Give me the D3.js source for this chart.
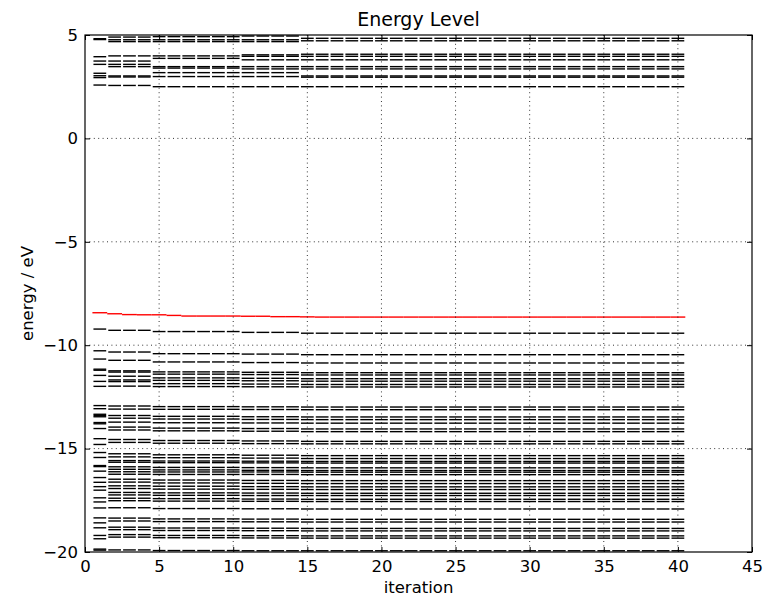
<!DOCTYPE html>
<html>
<head>
<meta charset="utf-8">
<script src="https://cdn.jsdelivr.net/npm/d3@7"></script>
<style>
  body { margin: 0; background: #fff; }
  svg { display: block; }
  text { font-family: "DejaVu Sans", sans-serif; fill: #000; }
</style>
</head>
<body>
<svg id="chart" width="780" height="598"></svg>
<script>
// SCF iterations
const iterations = [1, 2, 3, 4, 5, 6, 7, 8, 9, 10, 11, 12, 13, 14, 15, 16, 17, 18, 19, 20,
                    21, 22, 23, 24, 25, 26, 27, 28, 29, 30, 31, 32, 33, 34, 35, 36, 37, 38, 39, 40];

// HOMO energy (eV) at each iteration, drawn in red
const homoLevel = [-8.43, -8.48, -8.52, -8.53, -8.53, -8.56, -8.59, -8.59, -8.59, -8.59,
                   -8.60, -8.60, -8.62, -8.62, -8.63, -8.64, -8.64, -8.64, -8.64, -8.64,
                   -8.64, -8.64, -8.64, -8.64, -8.64, -8.64, -8.64, -8.64, -8.64, -8.64,
                   -8.64, -8.64, -8.64, -8.64, -8.64, -8.64, -8.64, -8.64, -8.64, -8.64];

// Orbital energies (eV), by stage of the SCF cycle
const levelsIter1 = [4.82, 4.78, 3.95, 3.74, 3.58, 3.15, 3.03, 2.94, 2.58,
  -9.22, -10.27, -10.67, -11.16, -11.21, -11.46, -11.75, -11.99,
  -12.92, -13.07, -13.34, -13.40, -13.46, -13.74, -13.80, -14.03, -14.52, -14.80,
  -15.19, -15.43, -15.82, -15.87, -16.09, -16.40, -16.63, -16.84, -17.01, -17.38, -17.58, -17.87,
  -18.35, -18.59, -18.83, -19.20, -19.36, -19.86, -19.91];

const levelsIter2to4 = [4.90, 4.77, 4.68, 3.99, 3.74, 3.58, 3.47, 3.02, 2.97, 2.56,
  -9.28, -10.33, -10.73, -11.24, -11.30, -11.50, -11.68, -11.76, -11.98,
  -12.94, -13.09, -13.40, -13.53, -13.72, -13.96, -14.10, -14.56, -14.70,
  -15.25, -15.40, -15.58, -15.66, -15.88, -16.00, -16.12, -16.24, -16.48, -16.62, -16.80, -16.93,
  -17.12, -17.24, -17.40, -17.52, -17.86,
  -18.36, -18.50, -18.80, -18.92, -19.16, -19.28, -19.90];

const levelsIter5to10 = [4.92, 4.77, 4.68, 3.99, 3.87, 3.47, 3.40, 3.18, 2.99, 2.50,
  -9.34, -10.41, -10.81, -11.29, -11.40, -11.58, -11.70, -11.86, -12.00,
  -12.97, -13.10, -13.44, -13.57, -13.75, -14.01, -14.14, -14.61, -14.74,
  -15.30, -15.44, -15.60, -15.68, -15.91, -16.03, -16.13, -16.25, -16.52, -16.66, -16.82, -16.96,
  -17.14, -17.26, -17.42, -17.54, -17.90,
  -18.40, -18.53, -18.84, -18.96, -19.20, -19.31, -19.93];

const levelsIter11to14 = [4.95, 4.77, 4.68, 4.04, 3.97, 3.80, 3.47, 3.36, 3.18, 2.99, 2.50,
  -9.38, -10.43, -10.84, -11.31, -11.42, -11.60, -11.72, -11.88, -12.01,
  -12.98, -13.11, -13.46, -13.59, -13.76, -14.03, -14.16, -14.63, -14.76,
  -15.32, -15.46, -15.61, -15.69, -15.92, -16.05, -16.13, -16.25, -16.54, -16.68, -16.84, -16.97,
  -17.15, -17.27, -17.44, -17.55, -17.91,
  -18.41, -18.54, -18.85, -18.97, -19.21, -19.32, -19.94];

const levelsIter15to40 = [4.84, 4.72, 4.07, 3.97, 3.80, 3.47, 3.36, 3.02, 2.96, 2.50,
  -9.42, -10.46, -10.86, -11.33, -11.44, -11.62, -11.74, -11.90, -12.02,
  -12.99, -13.12, -13.47, -13.60, -13.77, -14.05, -14.18, -14.65, -14.77,
  -15.34, -15.48, -15.62, -15.70, -15.93, -16.06, -16.14, -16.26, -16.55, -16.69, -16.85, -16.98,
  -17.16, -17.27, -17.45, -17.56, -17.92,
  -18.42, -18.55, -18.86, -18.98, -19.22, -19.33, -19.94];

const xTicks = [0, 5, 10, 15, 20, 25, 30, 35, 40, 45];
const yTicks = [-20, -15, -10, -5, 0, 5];

const stages = [
  { first: 1,  last: 1,  levels: levelsIter1 },
  { first: 2,  last: 4,  levels: levelsIter2to4 },
  { first: 5,  last: 10, levels: levelsIter5to10 },
  { first: 11, last: 14, levels: levelsIter11to14 },
  { first: 15, last: 40, levels: levelsIter15to40 }
];

const svg = d3.select("#chart");
const plot = { left: 85, right: 752, top: 35, bottom: 552 };

const x = d3.scaleLinear().domain([0, 45]).range([plot.left, plot.right]);
const y = d3.scaleLinear().domain([-20, 5]).range([plot.bottom, plot.top]);

// one short dash per orbital per iteration
const dashes = [];
iterations.forEach(it => {
  const stage = stages.find(s => it >= s.first && it <= s.last);
  stage.levels.forEach(e => dashes.push({ it, e }));
});

const clip = svg.append("clipPath").attr("id", "plotClip")
  .append("rect")
  .attr("x", plot.left).attr("y", plot.top - 1)
  .attr("width", plot.right - plot.left).attr("height", plot.bottom - plot.top + 2);

const data = svg.append("g").attr("clip-path", "url(#plotClip)");

data.selectAll("line.level")
  .data(dashes)
  .join("line")
  .attr("class", "level")
  .attr("x1", d => x(d.it - 0.43))
  .attr("x2", d => x(d.it + 0.43))
  .attr("y1", d => y(d.e))
  .attr("y2", d => y(d.e))
  .attr("stroke", "#000")
  .attr("stroke-width", 1.4);

// HOMO trace
data.selectAll("line.homo")
  .data(iterations.map((it, i) => ({ it, e: homoLevel[i] })))
  .join("line")
  .attr("class", "homo")
  .attr("x1", d => x(d.it - 0.5))
  .attr("x2", d => x(d.it + 0.5))
  .attr("y1", d => y(d.e))
  .attr("y2", d => y(d.e))
  .attr("stroke", "#ff0000")
  .attr("stroke-width", 1.4);

// dotted grid
const grid = svg.append("g");
grid.selectAll("line.gx")
  .data(xTicks.filter(t => t > 0 && t < 45))
  .join("line")
  .attr("x1", d => x(d)).attr("x2", d => x(d))
  .attr("y1", plot.top).attr("y2", plot.bottom)
  .attr("stroke", "#000").attr("stroke-width", 0.8)
  .attr("stroke-dasharray", "1,3.4");
grid.selectAll("line.gy")
  .data(yTicks.filter(t => t > -20 && t < 5))
  .join("line")
  .attr("x1", plot.left).attr("x2", plot.right)
  .attr("y1", d => y(d)).attr("y2", d => y(d))
  .attr("stroke", "#000").attr("stroke-width", 0.8)
  .attr("stroke-dasharray", "1,3.4");

// axes, ticks pointing inward on all four sides
const tickLen = 5;
const fontPx = 16.5;

const gx = svg.append("g").attr("transform", `translate(0,${plot.bottom})`)
  .call(d3.axisBottom(x).tickValues(xTicks).tickSizeInner(-tickLen).tickSizeOuter(0).tickPadding(8));
const gxTop = svg.append("g").attr("transform", `translate(0,${plot.top})`)
  .call(d3.axisTop(x).tickValues(xTicks).tickSizeInner(-tickLen).tickSizeOuter(0).tickFormat(""));
const gy = svg.append("g").attr("transform", `translate(${plot.left},0)`)
  .call(d3.axisLeft(y).tickValues(yTicks).tickSizeInner(-tickLen).tickSizeOuter(0).tickPadding(7));
const gyRight = svg.append("g").attr("transform", `translate(${plot.right},0)`)
  .call(d3.axisRight(y).tickValues(yTicks).tickSizeInner(-tickLen).tickSizeOuter(0).tickFormat(""));

[gx, gxTop, gy, gyRight].forEach(g => {
  g.select(".domain").remove();
  g.selectAll(".tick line").attr("stroke", "#000").attr("stroke-width", 1);
  g.selectAll("text").attr("font-size", fontPx).attr("font-family", "DejaVu Sans").attr("fill", "#000");
});

// frame
svg.append("rect")
  .attr("x", plot.left).attr("y", plot.top)
  .attr("width", plot.right - plot.left).attr("height", plot.bottom - plot.top)
  .attr("fill", "none").attr("stroke", "#000").attr("stroke-width", 1.2);

// titles
svg.append("text")
  .attr("x", (plot.left + plot.right) / 2).attr("y", 26)
  .attr("text-anchor", "middle").attr("font-size", 19)
  .text("Energy Level");

svg.append("text")
  .attr("x", (plot.left + plot.right) / 2).attr("y", 593)
  .attr("text-anchor", "middle").attr("font-size", fontPx)
  .text("iteration");

svg.append("text")
  .attr("transform", `translate(33,${(plot.top + plot.bottom) / 2}) rotate(-90)`)
  .attr("text-anchor", "middle").attr("font-size", fontPx)
  .text("energy / eV");
</script>
</body>
</html>
